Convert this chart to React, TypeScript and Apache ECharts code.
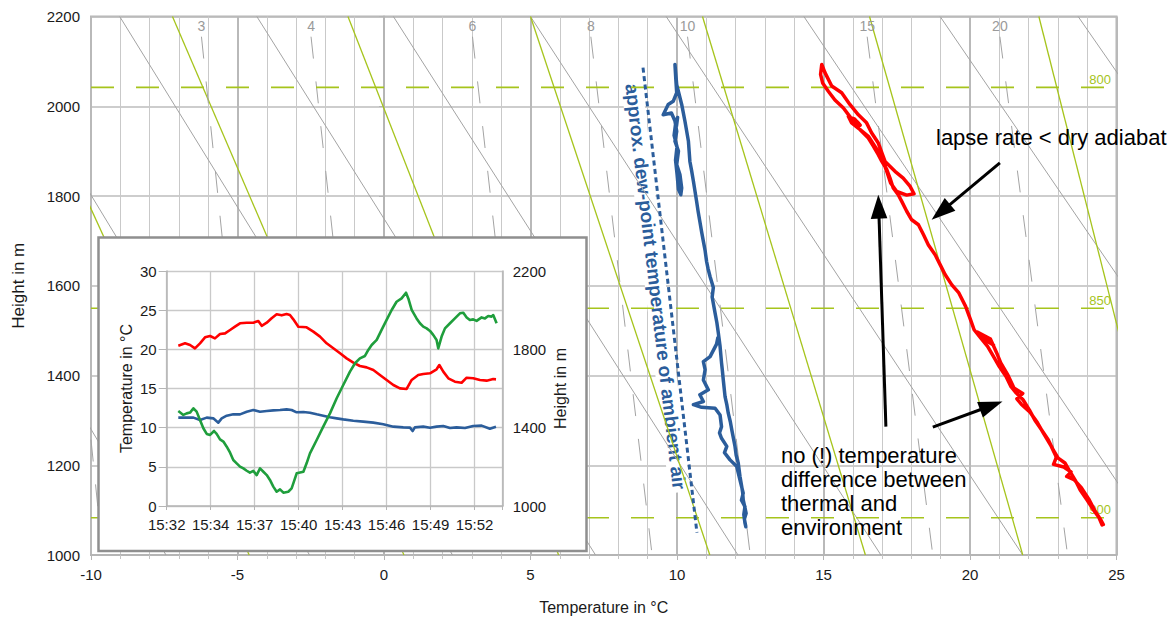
import React, { useEffect, useRef } from 'react';
import * as echarts from 'echarts';

const FONT = '"Liberation Sans", Arial, Helvetica, sans-serif';

// ---------- main diagram: temperature (°C) against height (m) ----------
const tempMin = -10;
const tempMax = 25;
const heightMin = 1000;
const heightMax = 2200;

// dry adiabats: temperature at 2200 m and at 1000 m
const dryAdiabatTop = [-18.4, -13.7, -9.02, -4.34, 0.32, 5.0, 9.63, 14.33, 18.98, 23.69];
const dryAdiabatBottom = [-7.44, -2.54, 2.34, 7.22, 12.08, 16.96, 21.8, 26.7, 31.55, 36.46];

// saturated adiabats: temperature at 2200 m and at 1000 m
const moistAdiabatTop = [-13.0, -7.22, -1.23, 5.0, 10.87, 16.57, 22.35];
const moistAdiabatBottom = [-4.6, 0.68, 5.96, 11.12, 16.43, 21.8, 27.0];

// saturation mixing-ratio lines (g/kg): temperature at 2155 m and at 1000 m
const mixingRatios = [2, 3, 4, 6, 8, 10, 15, 20];
const mixingRatioTop = [-11.4, -6.23, -2.49, 3.02, 7.06, 10.36, 16.49, 21.02];
const mixingRatioBottom = [-9.6, -4.4, -0.56, 5.02, 9.15, 12.5, 18.73, 23.33];
const mixingRatioTopHeight = 2155;

// pressure levels (hPa) and their heights (m)
const pressureLevels = [800, 850, 900];
const pressureHeights = [2042, 1550, 1083];

// thermal temperature in flight order: [°C, m]
const thermalTemperature: [number, number][] = [
  [20.5, 1486], [20.8, 1468], [20.6, 1476], [20.25, 1497], [20.7, 1481], [20.9, 1452], [21.05, 1428],
  [21.3, 1400], [21.5, 1372], [21.8, 1360], [21.6, 1348], [21.75, 1336], [22.05, 1318], [22.3, 1295],
  [22.5, 1272], [22.75, 1245], [22.95, 1218], [22.85, 1202], [23.2, 1196], [23.45, 1185], [23.3, 1175],
  [23.55, 1168], [23.8, 1150], [24.05, 1125], [24.25, 1100], [24.45, 1080], [24.55, 1068],
  [24.51, 1067], [24.39, 1085], [24.22, 1100], [23.99, 1123], [23.76, 1145], [23.59, 1167], [23.41, 1186],
  [23.24, 1205], [23.01, 1216], [22.84, 1234], [22.67, 1257], [22.44, 1279], [22.21, 1301], [22.03, 1323],
  [21.81, 1346], [21.58, 1361], [21.4, 1375], [21.23, 1398], [21.0, 1420], [20.77, 1446], [20.6, 1465],
  [20.37, 1483], [20.14, 1502], [20.02, 1524], [19.85, 1554], [19.62, 1584], [19.38, 1602], [19.15, 1625],
  [18.98, 1647], [18.81, 1669], [18.58, 1691], [18.41, 1714], [18.24, 1736], [18.01, 1747], [17.84, 1766],
  [17.67, 1788], [17.55, 1803], [17.38, 1818], [17.27, 1840], [17.16, 1859], [16.99, 1877], [16.87, 1892],
  [16.7, 1911], [16.53, 1929], [16.3, 1944], [16.08, 1959], [15.9, 1977], [15.68, 1996], [15.39, 2014],
  [15.17, 2033], [14.97, 2052], [14.9, 2071], [14.94, 2093],
  [15.05, 2075], [15.28, 2045], [15.62, 2030], [15.9, 2004], [16.19, 1981], [16.47, 1963], [16.64, 1941],
  [16.87, 1918], [17.1, 1877], [17.44, 1855], [17.72, 1840], [17.95, 1822], [18.09, 1805],
  [17.84, 1802], [17.5, 1810], [17.29, 1829], [17.18, 1851], [16.99, 1885], [16.79, 1907], [16.53, 1933],
  [16.25, 1948], [15.96, 1963], [15.85, 1977], [16.05, 1972], [16.25, 1958], [16.15, 1966],
];

// dew point in flight order: [°C, m]
const dewPoint: [number, number][] = [
  [11.4, 1486], [11.35, 1470], [11.13, 1442], [10.9, 1431], [10.96, 1413], [10.9, 1390], [11.07, 1368],
  [10.78, 1357], [10.9, 1342], [10.56, 1335], [10.84, 1329], [11.3, 1327], [11.47, 1312], [11.52, 1286],
  [11.45, 1272], [11.52, 1260], [11.7, 1242], [11.62, 1228], [11.81, 1212], [12.04, 1197], [12.15, 1167],
  [12.26, 1138], [12.2, 1122], [12.32, 1108], [12.28, 1090], [12.32, 1071],
  [12.35, 1063], [12.3, 1080], [12.36, 1093], [12.26, 1123], [12.24, 1140], [12.21, 1152], [12.15, 1175],
  [12.09, 1205], [12.02, 1222], [11.98, 1242], [11.87, 1279], [11.82, 1297], [11.75, 1316], [11.7, 1335],
  [11.64, 1353], [11.58, 1390], [11.55, 1410], [11.52, 1428], [11.47, 1465], [11.41, 1495], [11.36, 1518],
  [11.3, 1539], [11.2, 1575], [11.24, 1596], [11.13, 1620], [11.06, 1638], [11.01, 1654], [10.96, 1678],
  [10.9, 1699], [10.84, 1720], [10.78, 1743], [10.72, 1766], [10.67, 1788], [10.56, 1833], [10.5, 1856],
  [10.44, 1877], [10.39, 1922], [10.27, 1967], [10.16, 2004], [9.99, 2048], [9.93, 2093],
  [9.96, 2060], [9.99, 2030], [9.87, 2011], [9.7, 2004], [9.53, 1981], [9.81, 1985], [9.93, 1967],
  [9.99, 1944], [9.93, 1922], [10.05, 1900], [9.99, 1870], [10.1, 1848], [10.16, 1818], [10.13, 1803],
  [10.05, 1815], [10.0, 1850], [9.95, 1880], [10.0, 1910], [9.9, 1935], [9.95, 1960], [10.02, 1975], [9.98, 1955],
];

// approximate dew point of the ambient air: [°C, m]
const ambientDewPoint: [number, number][] = [[8.84, 2086], [10.68, 1050]];

// annotation arrows, from tail to tip: [°C, m]
const arrowLapseRate: [number, number][] = [[21.02, 1874], [18.69, 1747]];
const arrowUp: [number, number][] = [[17.13, 1286], [16.87, 1803]];
const arrowRight: [number, number][] = [[18.73, 1285], [21.11, 1342]];

// ---------- inset: time series (minutes after 15:32) ----------
const insetTimeLabels = ['15:32', '15:34', '15:37', '15:40', '15:43', '15:46', '15:49', '15:52'];
const insetTimeStep = 2.88;
const insetTimeMax = 22;

const insetTemperature: [number, number][] = [
  [0.76, 20.47], [1.2, 20.77], [1.53, 20.55], [1.85, 20.13], [2.18, 20.77], [2.51, 21.53], [2.84, 21.7],
  [3.16, 21.4], [3.49, 21.96], [3.82, 22.04], [4.15, 22.47], [4.47, 22.89], [4.8, 23.32], [5.24, 23.4],
  [5.67, 23.4], [6.0, 23.62], [6.22, 23.0], [6.55, 23.4], [6.87, 23.96], [7.2, 24.47], [7.53, 24.34],
  [7.85, 24.51], [8.07, 24.38], [8.29, 23.83], [8.62, 22.89], [9.16, 22.81], [9.6, 22.26], [10.04, 21.62],
  [10.47, 20.77], [10.91, 20.13], [11.35, 19.49], [11.78, 18.85], [12.22, 18.3], [12.65, 17.87],
  [13.09, 17.7], [13.53, 17.36], [13.96, 16.72], [14.4, 16.09], [14.84, 15.45], [15.27, 15.02],
  [15.71, 14.94], [16.04, 16.09], [16.47, 16.72], [16.8, 16.85], [17.24, 16.94], [17.67, 17.45],
  [17.85, 18.0], [18.11, 17.15], [18.44, 16.3], [18.87, 15.87], [19.31, 15.74], [19.64, 16.38],
  [20.07, 16.3], [20.51, 16.09], [20.95, 16.0], [21.38, 16.21], [21.56, 16.17],
];

const insetDewPoint: [number, number][] = [
  [0.76, 11.28], [1.31, 11.28], [1.75, 11.28], [2.18, 10.98], [2.62, 11.28], [3.05, 11.19], [3.38, 10.64],
  [3.6, 11.19], [3.93, 11.53], [4.36, 11.7], [4.8, 11.7], [5.24, 12.04], [5.67, 12.26], [6.11, 12.04],
  [6.55, 12.13], [6.98, 12.21], [7.42, 12.26], [7.85, 12.34], [8.18, 12.26], [8.51, 11.96], [8.95, 12.0],
  [9.38, 11.91], [9.82, 11.7], [10.25, 11.53], [10.69, 11.32], [11.13, 11.19], [11.56, 11.06],
  [12.22, 10.89], [12.87, 10.77], [13.53, 10.64], [14.18, 10.43], [14.84, 10.13], [15.49, 10.04],
  [15.93, 10.0], [16.1, 9.57], [16.25, 10.04], [16.8, 10.13], [17.24, 10.0], [17.67, 10.13], [18.11, 10.21],
  [18.55, 9.96], [18.98, 10.04], [19.53, 9.96], [20.07, 10.21], [20.62, 10.26], [21.16, 9.87], [21.56, 10.13],
];

const insetHeight: [number, number][] = [
  [0.76, 1485], [1.09, 1465], [1.31, 1473], [1.53, 1477], [1.75, 1499], [1.96, 1482], [2.18, 1439],
  [2.4, 1397], [2.62, 1368], [2.84, 1363], [3.1, 1383], [3.27, 1368], [3.49, 1340], [3.71, 1329],
  [3.93, 1303], [4.15, 1272], [4.36, 1235], [4.58, 1218], [4.8, 1201], [5.02, 1192], [5.24, 1180],
  [5.45, 1170], [5.67, 1179], [5.89, 1158], [6.11, 1192], [6.33, 1175], [6.55, 1158], [6.76, 1133],
  [6.98, 1099], [7.2, 1073], [7.42, 1085], [7.64, 1068], [7.96, 1073], [8.18, 1090], [8.4, 1141],
  [8.51, 1167], [8.95, 1175], [9.16, 1218], [9.38, 1269], [9.82, 1337], [10.25, 1405], [10.69, 1473],
  [11.13, 1550], [11.56, 1618], [12.0, 1686], [12.33, 1729], [12.65, 1754], [12.98, 1766], [13.2, 1797],
  [13.42, 1822], [13.75, 1848], [14.07, 1899], [14.4, 1950], [14.73, 2001], [15.05, 2043], [15.38, 2060],
  [15.67, 2089], [15.82, 2060], [16.04, 2001], [16.36, 1958], [16.58, 1933], [16.8, 1916], [17.02, 1907],
  [17.24, 1894], [17.45, 1874], [17.67, 1848], [17.78, 1805], [18.0, 1865], [18.22, 1907], [18.55, 1933],
  [18.87, 1958], [19.2, 1984], [19.42, 1987], [19.64, 1963], [19.85, 1950], [20.07, 1953], [20.29, 1945],
  [20.62, 1963], [20.84, 1958], [21.05, 1970], [21.27, 1967], [21.38, 1975], [21.6, 1933],
];

const RED = '#ff0000';
const BLUE = '#2b5d9b';
const GREEN = '#1f9e3c';
const LIME = '#a6c41c';
const GRAY_LINE = '#a3a3a3';
const TEXT = '#1a1a1a';

function straight(name: string, data: any[], color: string, width: number, extra: any = {}) {
  return {
    type: 'line',
    name,
    xAxisIndex: 0,
    yAxisIndex: 0,
    data,
    showSymbol: true,
    symbol: 'circle',
    symbolSize: 1,
    itemStyle: { color: 'rgba(0,0,0,0)' },
    lineStyle: { color, width },
    silent: true,
    z: 2,
    ...extra,
  };
}

function arrowElements(from: number[], to: number[]) {
  const dx = to[0] - from[0];
  const dy = to[1] - from[1];
  const len = Math.hypot(dx, dy);
  const ux = dx / len;
  const uy = dy / len;
  const headLen = 24;
  const half = 8.3;
  const bx = to[0] - ux * headLen;
  const by = to[1] - uy * headLen;
  return [
    {
      type: 'line',
      z: 10,
      shape: { x1: from[0], y1: from[1], x2: bx + ux * 3, y2: by + uy * 3 },
      style: { stroke: '#000', lineWidth: 3 },
    },
    {
      type: 'polygon',
      z: 10,
      shape: { points: [[to[0], to[1]], [bx - uy * half, by + ux * half], [bx + uy * half, by - ux * half]] },
      style: { fill: '#000' },
    },
  ];
}

export default function App() {
  const ref = useRef<HTMLDivElement>(null);

  useEffect(() => {
    if (!ref.current) return;
    const chart = echarts.init(ref.current, null, { renderer: 'svg' });

    const series: any[] = [];

    dryAdiabatTop.forEach((t, i) => {
      series.push(straight('dry adiabat ' + i, [[t, heightMax], [dryAdiabatBottom[i], heightMin]], GRAY_LINE, 1));
    });

    moistAdiabatTop.forEach((t, i) => {
      series.push(straight('moist adiabat ' + i, [[t, heightMax], [moistAdiabatBottom[i], heightMin]], LIME, 1.3));
    });

    mixingRatios.forEach((w, i) => {
      const top = mixingRatioTop[i];
      series.push(
        straight(
          'mixing ratio ' + w,
          [
            {
              value: [top, mixingRatioTopHeight],
              label: {
                show: top >= tempMin,
                formatter: String(w),
                position: 'top',
                distance: 3,
                color: '#9a9a9a',
                fontSize: 14,
                fontFamily: FONT,
              },
            },
            [mixingRatioBottom[i], heightMin],
          ],
          GRAY_LINE,
          1,
          { lineStyle: { color: GRAY_LINE, width: 1, type: [22, 23] } }
        )
      );
    });

    pressureLevels.forEach((p, i) => {
      const z = pressureHeights[i];
      series.push(
        straight(
          p + ' hPa',
          [
            [tempMin, z],
            {
              value: [tempMax, z],
              label: {
                show: true,
                formatter: String(p),
                position: 'left',
                distance: 5,
                offset: [0, -8],
                color: LIME,
                fontSize: 13,
                fontFamily: FONT,
              },
            },
          ],
          LIME,
          1.6,
          { lineStyle: { color: LIME, width: 1.6, type: [23, 22] } }
        )
      );
    });

    series.push(
      straight('ambient dew point', ambientDewPoint, BLUE, 3, {
        lineStyle: { color: BLUE, width: 3, type: [5, 3.5] },
        showSymbol: false,
        z: 3,
      })
    );
    series.push(
      straight('dew point', dewPoint, BLUE, 3.5, {
        showSymbol: false,
        lineStyle: { color: BLUE, width: 3.5, join: 'round' },
        z: 3,
      })
    );
    series.push(
      straight('thermal temperature', thermalTemperature, RED, 3.5, {
        showSymbol: false,
        lineStyle: { color: RED, width: 3.5, join: 'round' },
        z: 3,
      })
    );

    // inset series
    const insetLine = (name: string, data: [number, number][], color: string, yAxisIndex: number) => ({
      type: 'line',
      name,
      xAxisIndex: 1,
      yAxisIndex,
      data,
      showSymbol: false,
      lineStyle: { color, width: 2.6, join: 'round' },
      silent: true,
      z: 7,
    });
    series.push(insetLine('temperature', insetTemperature, RED, 1));
    series.push(insetLine('dew point (time)', insetDewPoint, BLUE, 1));
    series.push(insetLine('height', insetHeight, GREEN, 2));

    const timeLabel = (v: number) => {
      const k = Math.round(v / insetTimeStep);
      return Math.abs(v - k * insetTimeStep) < 0.01 && insetTimeLabels[k] ? insetTimeLabels[k] : '';
    };
    const plain = (v: number) => String(v);

    const option: any = {
      animation: false,
      backgroundColor: '#fff',
      textStyle: { fontFamily: FONT },
      grid: [
        {
          left: 91,
          top: 16.5,
          width: 1025.5,
          height: 538.5,
          show: true,
          borderColor: '#b5b5b5',
          borderWidth: 2,
          backgroundColor: 'transparent',
        },
        { left: 166.7, top: 271, width: 336, height: 235, z: 6 },
      ],
      xAxis: [
        {
          type: 'value',
          gridIndex: 0,
          min: tempMin,
          max: tempMax,
          interval: 5,
          name: 'Temperature in °C',
          nameLocation: 'middle',
          nameGap: 44,
          nameTextStyle: { fontSize: 16, color: TEXT, fontFamily: FONT },
          axisLine: { show: true, lineStyle: { color: '#b5b5b5', width: 2 } },
          axisTick: { show: true, length: 5, lineStyle: { color: '#b5b5b5' } },
          minorTick: { show: true, splitNumber: 5, length: 4, lineStyle: { color: '#c4c4c4' } },
          axisLabel: { fontSize: 15, color: TEXT, margin: 12, fontFamily: FONT, formatter: plain },
          splitLine: { show: true, lineStyle: { color: '#b9b9b9', width: 2 } },
          minorSplitLine: { show: true, lineStyle: { color: '#c9c9c9', width: 1 } },
        },
        {
          type: 'value',
          gridIndex: 1,
          min: 0,
          max: insetTimeMax,
          interval: insetTimeStep,
          z: 6,
          axisLine: { show: true, lineStyle: { color: '#b5b5b5', width: 1.5 } },
          axisTick: { show: true, length: 4, lineStyle: { color: '#b5b5b5' } },
          axisLabel: { fontSize: 15, color: TEXT, margin: 11, formatter: timeLabel, fontFamily: FONT },
          splitLine: { show: true, lineStyle: { color: '#c9c9c9', width: 1.3 } },
        },
      ],
      yAxis: [
        {
          type: 'value',
          gridIndex: 0,
          min: heightMin,
          max: heightMax,
          interval: 200,
          name: 'Height in m',
          nameLocation: 'middle',
          nameGap: 64,
          nameTextStyle: { fontSize: 17, color: TEXT, fontFamily: FONT },
          axisLine: { show: true, lineStyle: { color: '#b5b5b5', width: 2 } },
          axisTick: { show: true, length: 5, lineStyle: { color: '#b5b5b5' } },
          axisLabel: { fontSize: 15, color: TEXT, margin: 11, fontFamily: FONT, formatter: plain },
          splitLine: { show: true, lineStyle: { color: '#bdbdbd', width: 1.5 } },
        },
        {
          type: 'value',
          gridIndex: 1,
          min: 0,
          max: 30,
          interval: 5,
          z: 6,
          name: 'Temperature in °C',
          nameLocation: 'middle',
          nameGap: 32,
          nameTextStyle: { fontSize: 16, color: TEXT, fontFamily: FONT },
          axisLine: { show: true, lineStyle: { color: '#b5b5b5', width: 1.5 } },
          axisTick: { show: true, length: 8, lineStyle: { color: '#b5b5b5' } },
          axisLabel: { fontSize: 15, color: TEXT, margin: 10, fontFamily: FONT, formatter: plain },
          splitLine: { show: true, lineStyle: { color: '#c9c9c9', width: 1.3 } },
        },
        {
          type: 'value',
          gridIndex: 1,
          position: 'right',
          min: heightMin,
          max: heightMax,
          interval: 200,
          z: 6,
          name: 'Height in m',
          nameLocation: 'middle',
          nameGap: 50,
          nameTextStyle: { fontSize: 16, color: TEXT, fontFamily: FONT },
          axisLine: { show: true, lineStyle: { color: '#b5b5b5', width: 1.5 } },
          axisTick: { show: false },
          axisLabel: {
            fontSize: 15,
            color: TEXT,
            margin: 10,
            fontFamily: FONT,
            formatter: (v: number) => ((v - heightMin) % 400 === 0 ? String(v) : ''),
          },
          splitLine: { show: false },
        },
      ],
      series,
    };

    chart.setOption(option);

    const px = (p: number[]) => chart.convertToPixel({ gridIndex: 0 }, p) as number[];

    const elements: any[] = [
      {
        type: 'rect',
        z: 5,
        shape: { x: 98.5, y: 237.5, width: 488, height: 313.5 },
        style: { fill: '#fff', stroke: '#8f8f8f', lineWidth: 2.5 },
      },
      {
        type: 'text',
        z: 1,
        x: 655.5,
        y: 286.5,
        rotation: -1.454,
        style: {
          text: 'approx. dew-point temperature of ambient air',
          font: 'bold 19px ' + FONT,
          fill: BLUE,
          align: 'center',
          verticalAlign: 'middle',
          backgroundColor: '#fff',
          padding: [1, 3],
        },
      },
      {
        type: 'text',
        z: 10,
        x: 936,
        y: 137,
        style: {
          text: 'lapse rate < dry adiabat',
          font: '22px ' + FONT,
          fill: '#000',
          align: 'left',
          verticalAlign: 'middle',
        },
      },
      {
        type: 'text',
        z: 10,
        x: 781,
        y: 443,
        style: {
          text: 'no (!) temperature\ndifference between\nthermal and\nenvironment',
          font: '22px ' + FONT,
          lineHeight: 24.2,
          fill: '#000',
          align: 'left',
          verticalAlign: 'top',
        },
      },
      ...arrowElements(px(arrowLapseRate[0]), px(arrowLapseRate[1])),
      ...arrowElements(px(arrowUp[0]), px(arrowUp[1])),
      ...arrowElements(px(arrowRight[0]), px(arrowRight[1])),
    ];

    chart.setOption({ graphic: { elements } });

    return () => {
      chart.dispose();
    };
  }, []);

  return (
    <div
      ref={ref}
      style={{ position: 'absolute', left: 0, top: 0, width: 1176, height: 621, background: '#fff' }}
    />
  );
}
